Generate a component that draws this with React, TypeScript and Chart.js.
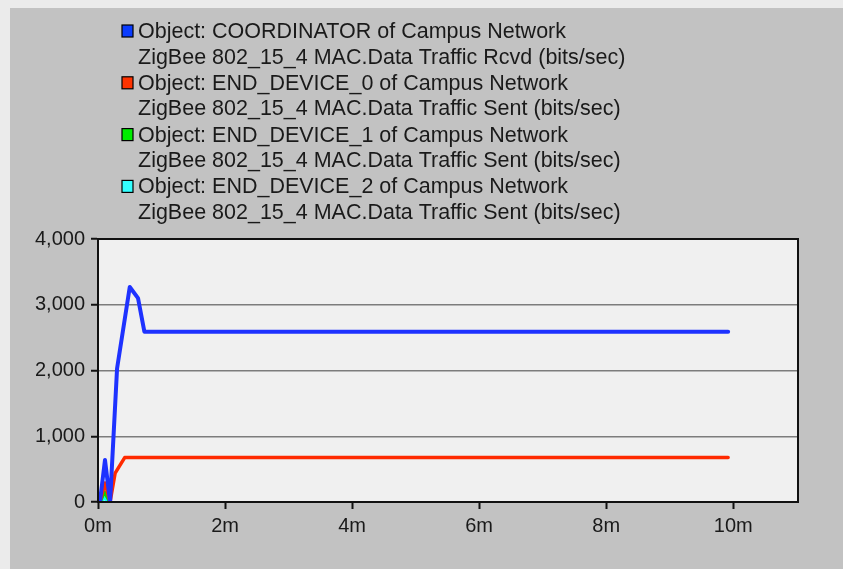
import React, { useEffect, useRef } from "react";
import { Chart, registerables } from "chart.js";

Chart.register(...registerables);

// ---- data (time in minutes, values in bits/sec) ----
const BLUE_T = [0.03, 0.11, 0.19, 0.3, 0.5, 0.63, 0.73, 9.92];
const BLUE_V = [0, 640, 0, 2030, 3270, 3100, 2590, 2590];
const RED_T = [0.03, 0.11, 0.19, 0.27, 0.42, 9.92];
const RED_V = [0, 290, 0, 440, 675, 675];
const GREEN_T = [0.03, 0.1, 0.19];
const GREEN_V = [0, 150, 0];
const CYAN_T = [0.03, 0.1, 0.19];
const CYAN_V = [0, 60, 0];

const LEGEND_LINE1 = [
  "Object: COORDINATOR of Campus Network",
  "Object: END_DEVICE_0 of Campus Network",
  "Object: END_DEVICE_1 of Campus Network",
  "Object: END_DEVICE_2 of Campus Network",
];
const LEGEND_LINE2 = [
  "ZigBee 802_15_4 MAC.Data Traffic Rcvd (bits/sec)",
  "ZigBee 802_15_4 MAC.Data Traffic Sent (bits/sec)",
  "ZigBee 802_15_4 MAC.Data Traffic Sent (bits/sec)",
  "ZigBee 802_15_4 MAC.Data Traffic Sent (bits/sec)",
];
const LINE_COLORS = ["#1e32ff", "#ff2a00", "#00dd00", "#00ffff"];
const SWATCH_COLORS = ["#0a3cff", "#ff3300", "#00ee00", "#33ffff"];

const Y_TICKS = [0, 1000, 2000, 3000, 4000];
const X_TICKS = [0, 2, 4, 6, 8, 10];
const X_MAX = 11.02;

const toXY = (t: number[], v: number[]) => t.map((x, i) => ({ x, y: v[i] }));

const FONT = '"Liberation Sans", Arial, sans-serif';

const backgroundPlugin = {
  id: "bgPanel",
  beforeDraw(chart: any) {
    const { ctx, width, height, chartArea } = chart;
    ctx.save();
    ctx.fillStyle = "#ebebeb";
    ctx.fillRect(0, 0, width, height);
    ctx.fillStyle = "#c2c2c2";
    ctx.fillRect(10, 8, width - 10, height - 8);
    ctx.fillStyle = "#f0f0f0";
    ctx.fillRect(chartArea.left, chartArea.top, chartArea.right - chartArea.left, chartArea.bottom - chartArea.top);
    ctx.restore();
  },
  afterDraw(chart: any) {
    const { ctx, chartArea } = chart;
    ctx.save();
    ctx.strokeStyle = "#111";
    ctx.lineWidth = 2;
    ctx.strokeRect(chartArea.left, chartArea.top, chartArea.right - chartArea.left, chartArea.bottom - chartArea.top);
    // legend
    ctx.font = "22px " + FONT;
    ctx.textBaseline = "middle";
    const sx = 428 / ctx.measureText(LEGEND_LINE1[0]).width;
    LEGEND_LINE1.forEach((l1, i) => {
      const y1 = 31 + i * 51.8;
      const y2 = y1 + 25.5;
      ctx.fillStyle = SWATCH_COLORS[i];
      ctx.fillRect(122, y1 - 6, 11, 12);
      ctx.strokeStyle = "#000";
      ctx.lineWidth = 1.2;
      ctx.strokeRect(122, y1 - 6, 11, 12);
      ctx.fillStyle = "#1a1a1a";
      ctx.save();
      ctx.translate(138, y1 + 1);
      ctx.scale(sx, 1);
      ctx.fillText(l1, 0, 0);
      ctx.restore();
      ctx.save();
      ctx.translate(138, y2 + 1);
      ctx.scale(sx, 1);
      ctx.fillText(LEGEND_LINE2[i], 0, 0);
      ctx.restore();
    });
    ctx.restore();
  },
};

export default function App() {
  const ref = useRef<HTMLCanvasElement | null>(null);
  useEffect(() => {
    if (!ref.current) return;
    const series = [
      toXY(BLUE_T, BLUE_V),
      toXY(RED_T, RED_V),
      toXY(GREEN_T, GREEN_V),
      toXY(CYAN_T, CYAN_V),
    ];
    const chart = new Chart(ref.current, {
      type: "line",
      data: {
        datasets: series.map((d, i) => ({
          label: LEGEND_LINE1[i],
          data: d,
          borderColor: LINE_COLORS[i],
          backgroundColor: LINE_COLORS[i],
          borderWidth: i === 0 ? 4 : 3.5,
          pointRadius: 0,
          tension: 0,
          fill: false,
          borderJoinStyle: "round" as const,
          borderCapStyle: "round" as const,
        })),
      },
      options: {
        responsive: false,
        animation: false,
        layout: { padding: { top: 239, right: 45, left: 0, bottom: 0 } },
        plugins: { legend: { display: false }, tooltip: { enabled: false } },
        scales: {
          x: {
            type: "linear",
            min: 0,
            max: X_MAX,
            afterBuildTicks: (scale: any) => {
              scale.ticks = X_TICKS.map((v) => ({ value: v }));
            },
            afterFit: (scale: any) => {
              scale.height = 67;
            },
            ticks: {
              callback: (v: any) => v + "m",
              font: { family: FONT, size: 20 },
              color: "#1a1a1a",
              padding: 5,
              maxRotation: 0,
              autoSkip: false,
            },
            grid: {
              drawOnChartArea: false,
              drawTicks: true,
              tickLength: 7,
              tickColor: "#111",
              tickWidth: 2,
            },
            border: { display: true, color: "#111", width: 2 },
          },
          y: {
            type: "linear",
            min: 0,
            max: 4000,
            afterBuildTicks: (scale: any) => {
              scale.ticks = Y_TICKS.map((v) => ({ value: v }));
            },
            afterFit: (scale: any) => {
              scale.width = 98;
            },
            ticks: {
              callback: (v: any) => Number(v).toLocaleString("en-US"),
              font: { family: FONT, size: 20 },
              color: "#1a1a1a",
              padding: 6,
            },
            grid: {
              color: (c: any) =>
                c.tick && (c.tick.value === 0 || c.tick.value === 4000) ? "rgba(0,0,0,0)" : "#7c7c7c",
              lineWidth: 1.5,
              drawTicks: true,
              tickLength: 7,
              tickColor: "#111",
              tickWidth: 2,
            },
            border: { display: true, color: "#111", width: 2 },
          },
        },
      },
      plugins: [backgroundPlugin],
    });
    return () => chart.destroy();
  }, []);
  return (
    <div style={{ position: "fixed", left: 0, top: 0, width: 843, height: 569 }}>
      <canvas ref={ref} width={843} height={569} style={{ display: "block" }} />
    </div>
  );
}
